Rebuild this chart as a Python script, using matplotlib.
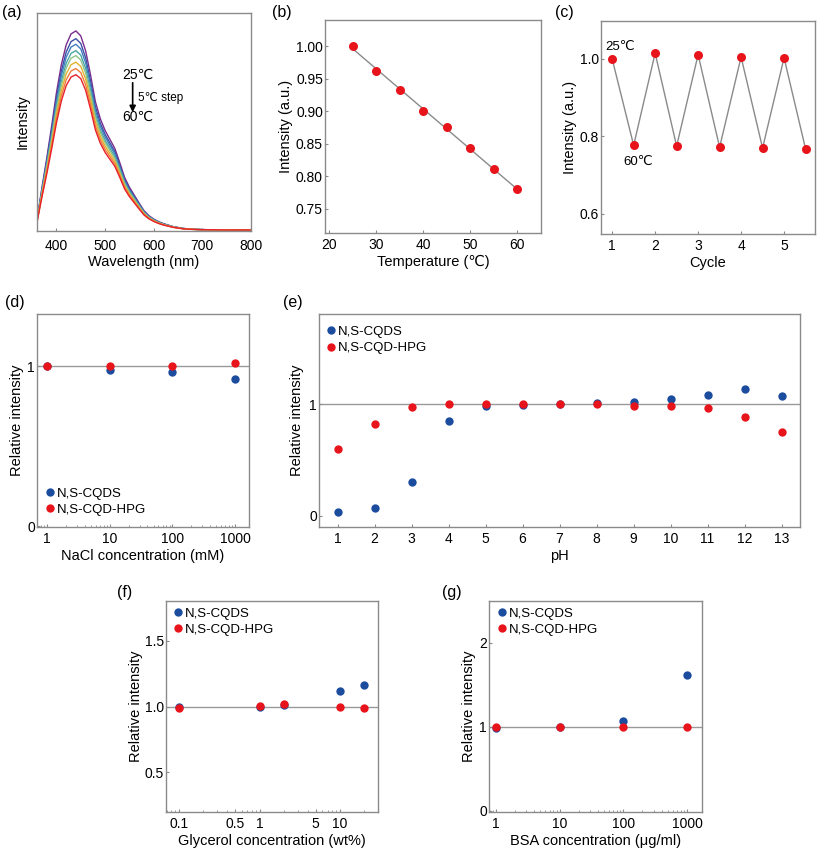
import numpy as np
import matplotlib
matplotlib.use("Agg")
import matplotlib.pyplot as plt

plt.rcParams['font.family'] = ['Liberation Sans', 'DejaVu Sans']
plt.rcParams['font.size'] = 10

# (a) emission spectrum at 25 C (normalised to its peak)
wavelength = [360, 370, 380, 390, 400, 410, 420, 430, 440, 450, 460, 470, 480,
              490, 500, 510, 520, 530, 540, 550, 560, 570, 580, 590, 600, 610,
              620, 640, 660, 680, 700, 750, 800]
spec_25 = [0.05, 0.21, 0.36, 0.52, 0.69, 0.83, 0.93, 0.985, 1.0, 0.975, 0.90,
           0.78, 0.645, 0.56, 0.50, 0.455, 0.41, 0.34, 0.265, 0.215, 0.175,
           0.135, 0.097, 0.072, 0.055, 0.042, 0.032, 0.017, 0.008, 0.004,
           0.002, 0.0, 0.0]
spec_colors = ['#7b2d8e', '#3b4ea5', '#3f7fc1', '#4aa6a6', '#8cc48a',
               '#e2b12f', '#f07d3a', '#e8202a']

# (b) peak intensity vs temperature
temps = [25, 30, 35, 40, 45, 50, 55, 60]
temp_int = [1.000, 0.961, 0.933, 0.901, 0.876, 0.843, 0.811, 0.780]

# (c) heating / cooling cycles
cycle = [1, 1.5, 2, 2.5, 3, 3.5, 4, 4.5, 5, 5.5]
cycle_int = [1.000, 0.777, 1.015, 0.775, 1.011, 0.772, 1.005, 0.770, 1.003, 0.768]

# (d) NaCl
nacl = [1, 10, 100, 1000]
nacl_cqds = [1.0, 0.975, 0.96, 0.916]
nacl_hpg = [1.0, 1.0, 1.0, 1.017]

# (e) pH
ph = [1, 2, 3, 4, 5, 6, 7, 8, 9, 10, 11, 12, 13]
ph_cqds = [0.03, 0.07, 0.30, 0.848, 0.982, 0.99, 1.0, 1.01, 1.02, 1.042,
           1.078, 1.131, 1.069]
ph_hpg = [0.594, 0.821, 0.976, 1.0, 1.0, 1.0, 1.0, 1.0, 0.985, 0.979,
          0.961, 0.884, 0.749]

# (f) glycerol
glyc = [0.1, 1, 2, 10, 20]
glyc_cqds = [0.995, 1.0, 1.01, 1.12, 1.163]
glyc_hpg = [0.985, 1.005, 1.018, 0.997, 0.992]

# (g) BSA
bsa = [1, 10, 100, 1000]
bsa_cqds = [0.99, 1.0, 1.068, 1.613]
bsa_hpg = [1.0, 1.0, 0.995, 1.0]

RED = '#e8141c'
BLUE = '#1b4c9e'
GREY = '#8a8a8a'
W, H = 817, 850

fig = plt.figure(figsize=(W / 100, H / 100), dpi=100)


def ax_at(l, t, r, b):
    ax = fig.add_axes([l / W, 1 - b / H, (r - l) / W, (b - t) / H])
    for s in ax.spines.values():
        s.set_color(GREY)
        s.set_linewidth(1)
    ax.tick_params(which='both', direction='in', color=GREY, labelsize=10)
    ax.tick_params(which='major', length=2.5)
    ax.tick_params(which='minor', length=1.5)
    ax.tick_params(axis='y', pad=1.5)
    ax.tick_params(axis='x', pad=3.5)
    return ax


def panel_label(x, y, s):
    fig.text(x / W, 1 - y / H, s, fontsize=11.5, va='center', ha='left')


def pair(ax, x, yb, yr, loc, anchor, ylpad=2):
    ax.axhline(1, color='#999999', lw=1, zorder=1)
    ax.plot(x, yb, 'o', color=BLUE, ms=6, mec='none', label='N,S-CQDS', zorder=3)
    ax.plot(x, yr, 'o', color=RED, ms=6, mec='none', label='N,S-CQD-HPG', zorder=4)
    ax.legend(loc=loc, bbox_to_anchor=anchor, frameon=False, fontsize=9.5,
              handletextpad=0.05, handlelength=1.0, labelspacing=0.3,
              borderaxespad=0, borderpad=0)
    ax.set_ylabel('Relative intensity', labelpad=ylpad, fontsize=10.5)


# (a)
ax = ax_at(37, 13, 251, 231)
base = np.array(spec_25)
for t, c in zip(temp_int, spec_colors):
    ax.plot(wavelength, base * t, color=c, lw=1)
ax.set_xlim(360, 800)
ax.set_ylim(-0.005, 1.09)
ax.set_yticks([])
ax.set_xticks([400, 500, 600, 700, 800])
ax.tick_params(axis='x', pad=6)
ax.set_xlabel('Wavelength (nm)', labelpad=1, fontsize=10.5)
ax.set_ylabel('Intensity', labelpad=5, fontsize=10.5)
ax.text(0.40, 0.716, '25℃', transform=ax.transAxes, fontsize=10, va='center')
ax.text(0.40, 0.523, '60℃', transform=ax.transAxes, fontsize=10, va='center')
ax.text(0.472, 0.61, '5℃ step', transform=ax.transAxes, fontsize=8.5, va='center')
ax.annotate('', xy=(0.447, 0.545), xytext=(0.447, 0.68), xycoords='axes fraction',
            arrowprops=dict(arrowstyle='-|>', color='black', lw=1.2,
                            mutation_scale=9, shrinkA=0, shrinkB=0))
panel_label(2, 12, '(a)')

# (b)
ax = ax_at(325, 20, 541, 233)
fit = np.polyfit(temps, temp_int, 1)
ax.plot(temps, np.polyval(fit, temps), color=GREY, lw=1, zorder=1)
ax.plot(temps, temp_int, 'o', color=RED, ms=6.5, mec='none', zorder=3)
ax.set_xlim(19.1, 65.1)
ax.set_ylim(0.713, 1.04)
ax.set_xticks([20, 30, 40, 50, 60])
ax.set_yticks([0.75, 0.80, 0.85, 0.90, 0.95, 1.00])
ax.set_yticklabels(['0.75', '0.80', '0.85', '0.90', '0.95', '1.00'])
ax.set_xlabel('Temperature (℃)', labelpad=2, fontsize=10.5)
ax.set_ylabel('Intensity (a.u.)', labelpad=2, fontsize=10.5)
panel_label(272, 12, '(b)')

# (c)
ax = ax_at(601, 21, 815, 234)
ax.plot(cycle, cycle_int, color=GREY, lw=1, zorder=1)
ax.plot(cycle, cycle_int, 'o', color=RED, ms=6.5, mec='none', zorder=3)
ax.set_xlim(0.74, 5.72)
ax.set_ylim(0.548, 1.098)
ax.set_xticks([1, 2, 3, 4, 5])
ax.set_yticks([0.6, 0.8, 1.0])
ax.set_xlabel('Cycle', labelpad=2, fontsize=10.5)
ax.set_ylabel('Intensity (a.u.)', labelpad=2, fontsize=10.5)
ax.text(cycle[0] - 0.16, cycle_int[0] + 0.03, '25℃', fontsize=9.5, va='center')
ax.text(cycle[1] - 0.23, cycle_int[1] - 0.043, '60℃', fontsize=9.5, va='center')
panel_label(555, 13, '(c)')

# (d)
ax = ax_at(37, 314, 249, 527)
pair(ax, nacl, nacl_cqds, nacl_hpg, 'lower left', (0.03, 0.052))
ax.set_xscale('log')
ax.set_xlim(0.69, 1670)
ax.set_ylim(-0.006, 1.325)
ax.set_xticks([1, 10, 100, 1000])
ax.set_xticklabels(['1', '10', '100', '1000'])
ax.set_yticks([0, 1])
ax.set_xlabel('NaCl concentration (mM)', labelpad=2, fontsize=10.5)
panel_label(5, 303, '(d)')

# (e)
ax = ax_at(319, 314, 800, 527)
pair(ax, ph, ph_cqds, ph_hpg, 'upper left', (0.011, 0.945), ylpad=3.5)
ax.set_xlim(0.5, 13.5)
ax.set_ylim(-0.1, 1.806)
ax.set_xticks(ph)
ax.set_yticks([0, 1])
ax.set_xlabel('pH', labelpad=2, fontsize=10.5)
panel_label(283, 303, '(e)')

# (f)
ax = ax_at(166, 601, 378, 812)
pair(ax, glyc, glyc_cqds, glyc_hpg, 'upper left', (0.025, 0.97), ylpad=1)
ax.set_xscale('log')
ax.set_xlim(0.069, 29.6)
ax.set_ylim(0.2, 1.8)
ax.set_xticks([0.1, 0.5, 1, 5, 10])
ax.set_xticklabels(['0.1', '0.5', '1', '5', '10'])
ax.set_yticks([0.5, 1.0, 1.5])
ax.set_yticklabels(['0.5', '1.0', '1.5'])
ax.set_xlabel('Glycerol concentration (wt%)', labelpad=2, fontsize=10.5)
panel_label(117, 593, '(f)')

# (g)
ax = ax_at(489, 601, 702, 812)
pair(ax, bsa, bsa_cqds, bsa_hpg, 'upper left', (0.03, 0.97))
ax.set_xscale('log')
ax.set_xlim(0.78, 1720)
ax.set_ylim(-0.015, 2.5)
ax.set_xticks([1, 10, 100, 1000])
ax.set_xticklabels(['1', '10', '100', '1000'])
ax.set_yticks([0, 1, 2])
ax.set_xlabel('BSA concentration (μg/ml)', labelpad=2, fontsize=10.5)
panel_label(442, 593, '(g)')

fig.savefig('out.png', dpi=100)
